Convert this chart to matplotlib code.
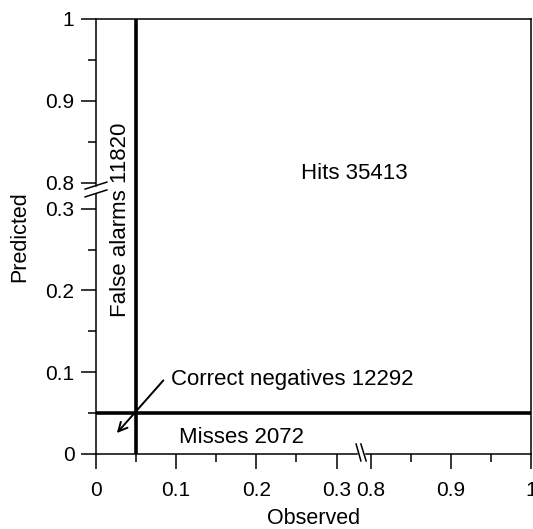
# forecast verification: observed vs predicted with broken axes

import numpy as np
import matplotlib
matplotlib.use('Agg')
import matplotlib.pyplot as plt

plt.rcParams['font.family'] = ['Liberation Sans', 'DejaVu Sans']

# contingency table
categories = ['Hits', 'False alarms', 'Misses', 'Correct negatives']
counts = [35413, 11820, 2072, 12292]
threshold = 0.05

major_ticks = [0, 0.1, 0.2, 0.3, 0.8, 0.9, 1]
minor_ticks = [0.05, 0.15, 0.25, 0.85, 0.95]
tick_labels = ['0', '0.1', '0.2', '0.3', '0.8', '0.9', '1']


def make_break(gap):
    """squeeze 0.3..0.8 into a short gap"""
    def fwd(v):
        v = np.asarray(v, dtype=float)
        return np.where(v <= 0.3, v,
                        np.where(v >= 0.8, v - 0.5 + gap,
                                 0.3 + (v - 0.3) * gap / 0.5))

    def inv(d):
        d = np.asarray(d, dtype=float)
        return np.where(d <= 0.3, d,
                        np.where(d >= 0.3 + gap, d + 0.5 - gap,
                                 0.3 + (d - 0.3) * 0.5 / gap))
    return fwd, inv


fig = plt.figure(figsize=(5.33, 5.29), dpi=100)
ax = fig.add_axes([0.1801, 0.1418, 0.8161, 0.8223])
ax.set_xscale('function', functions=make_break(0.0425))
ax.set_yscale('function', functions=make_break(0.032))
ax.set_xlim(0, 1)
ax.set_ylim(0, 1)

# threshold lines
ax.plot([threshold, threshold], [0, 1], color='k', lw=2.6, solid_capstyle='butt')
ax.plot([0, 1], [threshold, threshold], color='k', lw=2.6, solid_capstyle='butt')

# ticks
for a in (ax.xaxis, ax.yaxis):
    a.set_ticks(major_ticks)
    a.set_ticklabels(tick_labels)
    a.set_ticks(minor_ticks, minor=True)
ax.tick_params(which='major', direction='out', length=10.5, width=1.1, labelsize=15)
ax.tick_params(which='minor', direction='out', length=5.5, width=1.1)
ax.tick_params(axis='x', which='major', pad=9)
ax.tick_params(axis='y', which='major', pad=5)

# spines with breaks
for s in ax.spines.values():
    s.set_linewidth(1.1)
ax.spines['left'].set_visible(False)
ax.spines['bottom'].set_visible(False)
kw = dict(transform=ax.transAxes, color='k', lw=1.1, clip_on=False)
ax.plot([0, 0.600], [0, 0], **kw)
ax.plot([0.621, 1], [0, 0], **kw)
ax.plot([0, 0], [0, 0.598], **kw)
ax.plot([0, 0], [0.616, 1], **kw)
# break marks
ax.plot([0.598, 0.609], [0.023, -0.016], **kw)
ax.plot([0.609, 0.621], [0.023, -0.016], **kw)
ax.plot([-0.025, 0.025], [0.609, 0.625], **kw)
ax.plot([-0.025, 0.025], [0.591, 0.607], **kw)

ax.set_xlabel('Observed', fontsize=15.5)
ax.set_ylabel('Predicted', fontsize=15.5)
ax.xaxis.set_label_coords(0.5, -0.125)
ax.yaxis.set_label_coords(-0.152, 0.5)

fs = 16
ax.text(0.256, 0.8046, '%s %d' % (categories[0], counts[0]), fontsize=fs,
        va='baseline', ha='left')
ax.text(0.0375, 0.2866, '%s %d' % (categories[1], counts[1]), fontsize=fs,
        rotation=90, rotation_mode='anchor', va='baseline', ha='center')
ax.text(0.103, 0.0134, '%s %d' % (categories[2], counts[2]), fontsize=fs,
        va='baseline', ha='left')
ax.text(0.093, 0.084, '%s %d' % (categories[3], counts[3]), fontsize=fs,
        va='baseline', ha='left')
ax.annotate('', xy=(0.026, 0.0256), xytext=(0.084, 0.090),
            arrowprops=dict(arrowstyle='->', lw=1.4, color='k',
                            mutation_scale=16, shrinkA=0, shrinkB=0))

plt.savefig('out.png', dpi=100)
